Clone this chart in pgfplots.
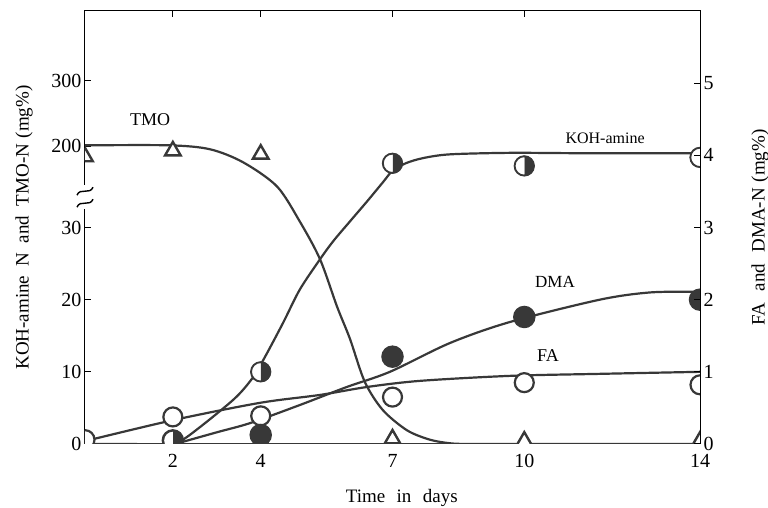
\documentclass[border=0pt]{standalone}
\usepackage{fontspec}
\setmainfont{Liberation Serif}
\usepackage{pgfplots}
\usepackage{pgfplotstable}
\pgfplotsset{compat=1.18}

% left scale is broken: 0-30 mg% below the break, 200-300 mg% above it
\newcommand{\brkmap}[1]{((#1)<=30 ? (#1)/10 : ((#1)<=120 ? 3+((#1)-30)*0.004456 : 4.125+((#1)-200)*0.00905))}

\definecolor{ink}{gray}{0.22}

% ---- measured points (mg%) ----
\pgfplotstableread{
d v
0 184
2 193
4 188
7 0.7
10 0.4
14 0.4
}\tmopts
\pgfplotstableread{
d v
2 0.5
4 10
7 174
10 170
14 183
}\kohpts
\pgfplotstableread{
d v
0 0.06
2 0.375
4 0.39
7 0.65
10 0.85
14 0.82
}\fapts
\pgfplotstableread{
d v
2 0.05
4 0.125
7 1.21
10 1.76
14 2.0
}\dmapts

% ---- fitted curves (mg%) ----
\pgfplotstableread{
d v
0 201.5
1.93 201.5
2.85 195.4
3.60 175.5
4.37 138.6
4.89 48.6
5.35 25.6
5.74 19.0
6.03 14.6
6.37 8.6
6.78 4.7
7.33 1.9
7.85 0.6
8.31 0.1
8.76 0
10 0
12 0
14 0
}\tmocurve
\pgfplotstableread{
d v
0 0
1.0 0
1.93 0
2.32 0.97
3.37 6.1
3.82 9.2
4.10 12.1
4.51 16.8
4.89 21.4
5.35 25.6
5.65 28.1
6.03 48.7
6.42 111
6.78 144.8
6.99 161.6
7.30 174
7.70 182
8.31 187.7
9.67 190
11.1 189.5
12.5 189.5
14 189.5
}\kohcurve
\pgfplotstableread{
d v
0 0.04
2.0 0.33
3.98 0.57
5.35 0.68
6.42 0.79
7.63 0.875
9.67 0.944
11.72 0.972
14 1.0
}\facurve
\pgfplotstableread{
d v
2.05 0
3.03 0.167
3.76 0.29
4.89 0.54
5.96 0.79
6.94 1.0
8.31 1.40
9.67 1.69
11.72 2.0
12.86 2.10
13.93 2.11
}\dmacurve

\pgfplotsset{
  curve/.style={draw=ink, line width=2.2pt, smooth, tension=0.5, mark=none},
  opencirc/.style={only marks, mark=*, mark size=9.5pt,
    mark options={draw=ink, fill=white, line width=2.2pt}},
  fullcirc/.style={only marks, mark=*, mark size=10.5pt,
    mark options={draw=ink, fill=ink, line width=1.5pt}},
  halfcirc/.style={only marks, mark=halfcircle*, mark size=9.5pt,
    mark options={draw=ink, fill=ink, line width=1.5pt, rotate=-90}},
  opentri/.style={only marks, mark=triangle*, mark size=9pt,
    mark options={draw=ink, fill=white, line width=2.4pt}},
}

\begin{document}
\begin{tikzpicture}[font=\fontsize{20}{22}\selectfont]
\begin{axis}[
  scale only axis, width=615pt, height=433pt,
  xmin=0, xmax=14, ymin=0, ymax=6,
  clip marker paths=true,
  axis line style={black, line width=1pt},
  xtick={2,4,7,10,14}, xticklabels={2,4,7,10,14},
  xtick pos=both, xticklabel pos=lower,
  ytick={0,1,2,3,4.125,5.03}, yticklabels={0,10,20,30,200,300},
  ytick pos=left,
  tick align=inside, major tick length=6pt,
  tick style={black, line width=1pt},
  xticklabel style={yshift=-7pt},
  xlabel={Time\hspace{0.6em}in\hspace{0.6em}days},
  xlabel style={at={(axis description cs:0.515,-0.125)}, anchor=center,
    font=\fontsize{19}{21}\selectfont},
  ylabel={KOH-amine\hspace{0.5em}N\hspace{0.5em}and\hspace{0.5em}TMO-N\hspace{0.3em}(mg\%)},
  ylabel style={at={(axis description cs:-0.099,0.5)}, anchor=center,
    font=\fontsize{19}{21}\selectfont},
]
  % fitted curves
  \addplot[curve] table[x=d, y expr=\brkmap{\thisrow{v}}] {\tmocurve};
  \addplot[curve] table[x=d, y expr=\brkmap{\thisrow{v}}] {\kohcurve};
  \addplot[curve] table[x=d, y=v] {\facurve};
  \addplot[curve] table[x=d, y=v] {\dmacurve};
  % bottom spine carries the zero-level traces
  \draw[ink, line width=2.4pt] (rel axis cs:0,0) -- (rel axis cs:1,0);
  % measured points
  \addplot[opentri] table[x=d, y expr=\brkmap{\thisrow{v}}] {\tmopts};
  \addplot[opencirc] table[x=d, y=v] {\fapts};
  \addplot[fullcirc] table[x=d, y=v] {\dmapts};
  \addplot[opencirc] table[x=d, y expr=\brkmap{\thisrow{v}}] {\kohpts};
  \addplot[halfcirc] table[x=d, y expr=\brkmap{\thisrow{v}}] {\kohpts};
  % curve names
  \node[font=\fontsize{18}{20}\selectfont] at (axis cs:1.48,4.5) {TMO};
  \node[font=\fontsize{16}{18}\selectfont] at (axis cs:11.84,4.24) {KOH-amine};
  \node[font=\fontsize{17}{19}\selectfont] at (axis cs:10.7,2.24) {DMA};
  \node[font=\fontsize{18}{20}\selectfont] at (axis cs:10.54,1.22) {FA};
  \coordinate (brk) at (axis cs:0,3.42);
  \coordinate (SW) at (rel axis cs:0,0);
  \coordinate (NE) at (rel axis cs:1,1);
\end{axis}
\begin{axis}[
  scale only axis, width=615pt, height=433pt,
  xmin=0, xmax=14, ymin=0, ymax=6,
  axis x line=none, axis y line*=right,
  axis line style={black, line width=1pt},
  ytick={0,1,2,3,4,5}, yticklabels={0,1,2,3,4,5},
  tick align=inside, major tick length=6pt,
  tick style={black, line width=1pt},
  ylabel={FA\hspace{0.6em}and\hspace{0.6em}DMA-N\hspace{0.3em}(mg\%)},
  ylabel style={at={(axis description cs:1.0976,0.5)}, anchor=center,
    font=\fontsize{19}{21}\selectfont},
]
\end{axis}
% break marks on the left scale
\fill[white] ([shift={(-4pt,-12pt)}]brk) rectangle ([shift={(4pt,12pt)}]brk);
\draw[black, line width=1.4pt] ([shift={(-8pt,2pt)}]brk) .. controls +(3pt,8pt) and +(-3pt,-8pt) .. ([shift={(8pt,10pt)}]brk);
\draw[black, line width=1.4pt] ([shift={(-8pt,-10pt)}]brk) .. controls +(3pt,8pt) and +(-3pt,-8pt) .. ([shift={(8pt,-2pt)}]brk);
\pgfresetboundingbox
\path ([shift={(-85pt,-64pt)}]SW) rectangle ([shift={(68pt,11pt)}]NE);
\end{tikzpicture}
\end{document}
